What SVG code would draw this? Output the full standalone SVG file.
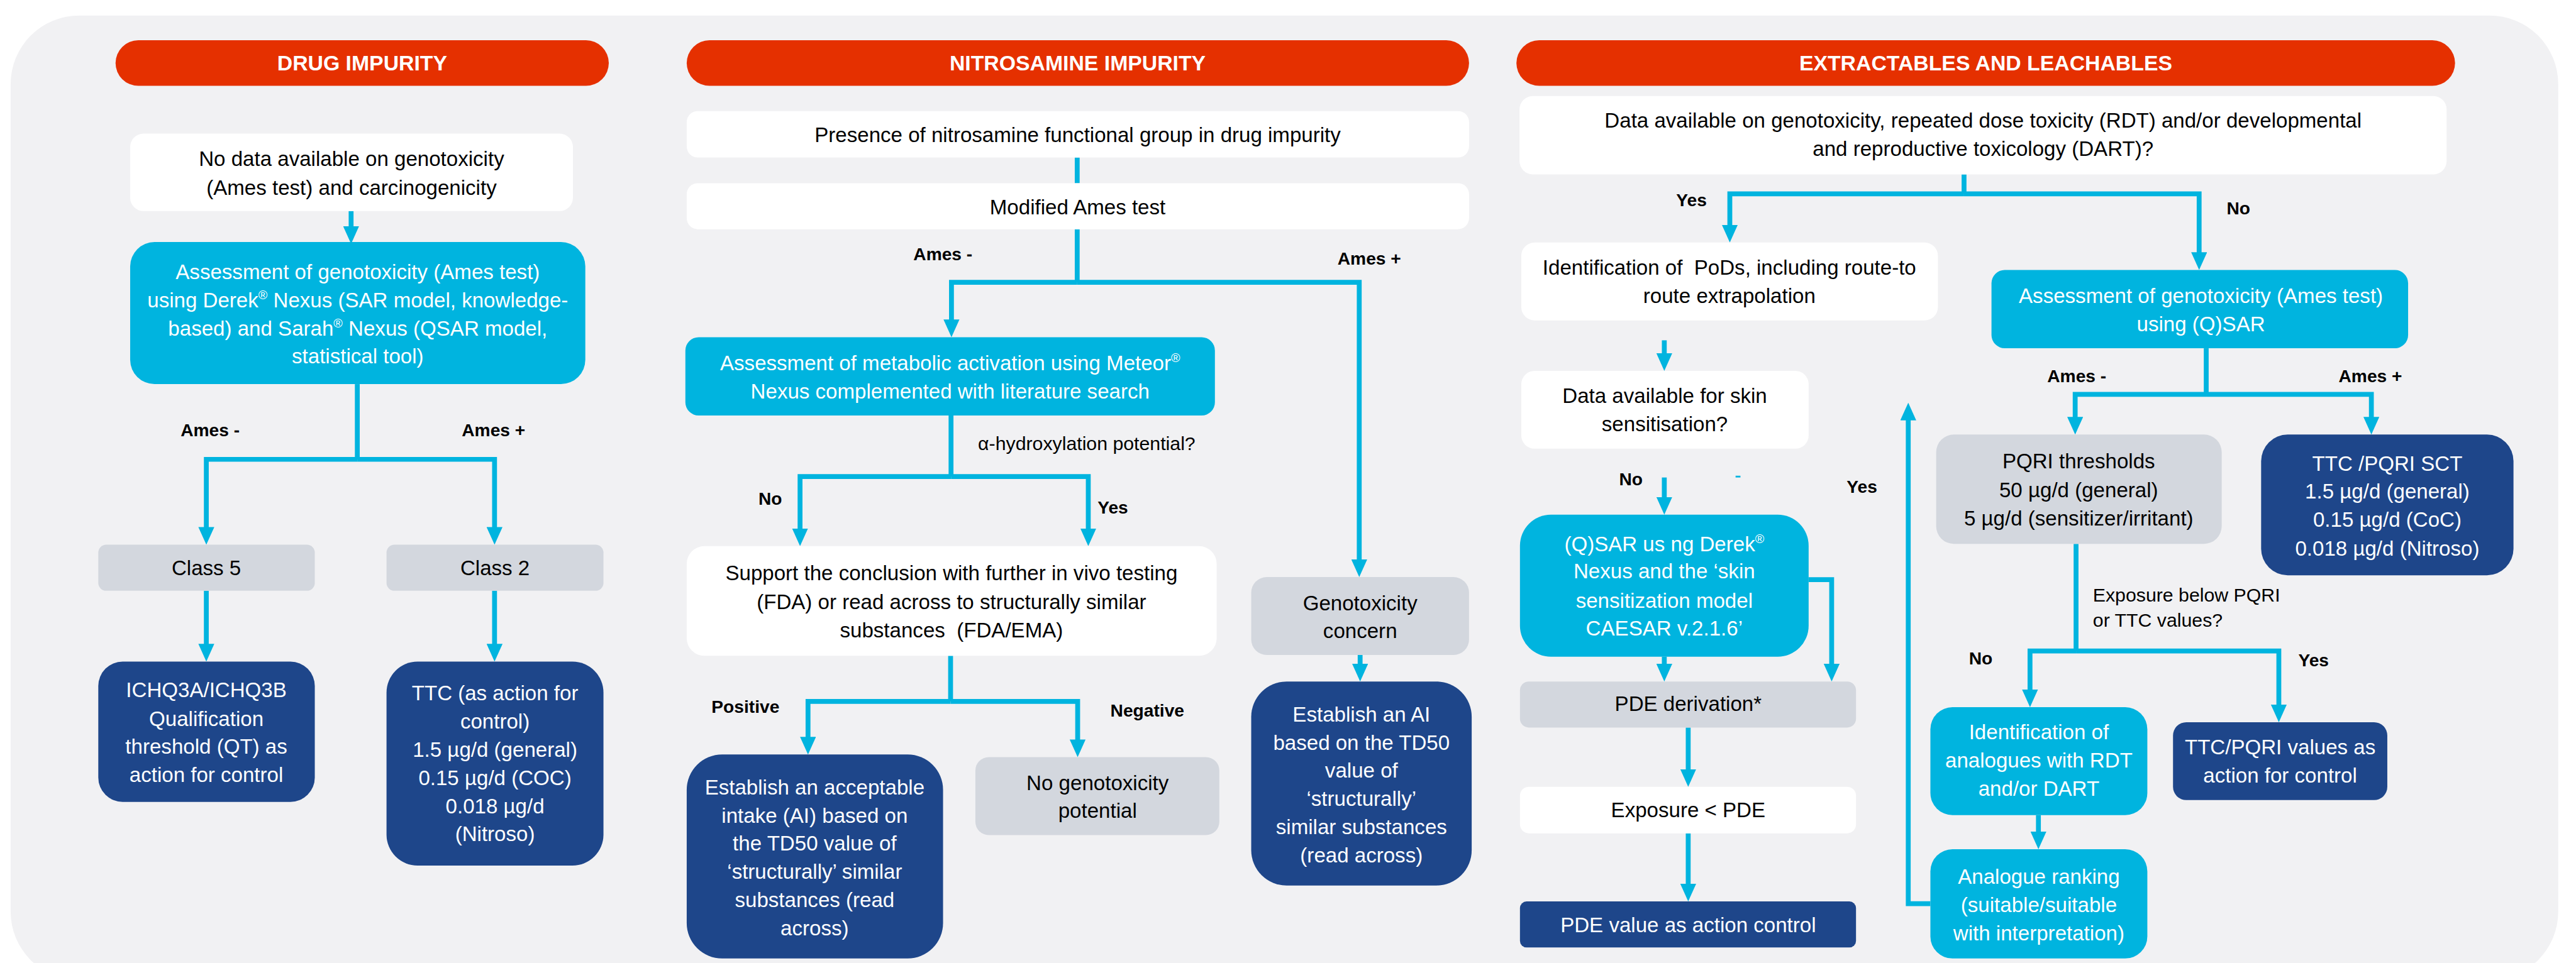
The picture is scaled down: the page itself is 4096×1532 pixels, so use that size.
<svg xmlns="http://www.w3.org/2000/svg" width="4096" height="1532" viewBox="0 0 4096 1532">
<style>
.t{font-family:"Liberation Sans",Arial,sans-serif;font-size:47px;text-anchor:middle;fill:#000}
.w{fill:#fff}
.lb{font-family:"Liberation Sans",Arial,sans-serif;font-size:40px;font-weight:bold;fill:#000}
.sl{font-family:"Liberation Sans",Arial,sans-serif;font-size:43px;fill:#000}
.hd{font-family:"Liberation Sans",Arial,sans-serif;font-size:48px;font-weight:bold;fill:#fff;text-anchor:middle}
.pill{fill:#e53000}
.wb{fill:#ffffff}
.cb{fill:#00b4df}
.db{fill:#1e468a}
.gb{fill:#d3d7de}
.cn{fill:none;stroke:#00b4df;stroke-width:11;stroke-linejoin:miter}
.ar{marker-end:url(#ah)}
</style>
<defs>
<marker id="ah" viewBox="0 0 40 36" refX="20" refY="18" markerWidth="40" markerHeight="36" markerUnits="userSpaceOnUse" orient="auto">
<path d="M0,0 L40,18 L0,36 z" fill="#00b4df"/>
</marker>
</defs>
<rect width="4096" height="1532" fill="#ffffff"/>
<g transform="scale(0.704)">
<rect id="panel" x="24" y="35" width="5754" height="2180" rx="155" fill="#f1f1f3"/>

<g id="connectors">
<path class="cn ar" d="M793,477 V531"/>
<path class="cn" d="M807,868 V1038"/>
<path class="cn ar" d="M807,1038 H466 V1211"/>
<path class="cn ar" d="M807,1038 H1117 V1211"/>
<path class="cn ar" d="M466,1335 V1475"/>
<path class="cn ar" d="M1117,1335 V1475"/>

<path class="cn" d="M2433,356 V414"/>
<path class="cn" d="M2433,518 V638"/>
<path class="cn ar" d="M2433,638 H2149 V742"/>
<path class="cn ar" d="M2433,638 H3070 V1284"/>
<path class="cn" d="M2148,939 V1077"/>
<path class="cn ar" d="M2148,1077 H1807 V1214"/>
<path class="cn ar" d="M2148,1077 H2458 V1214"/>
<path class="cn" d="M2147,1482 V1585"/>
<path class="cn ar" d="M2147,1585 H1825 V1685"/>
<path class="cn ar" d="M2147,1585 H2434 V1691"/>
<path class="cn ar" d="M3072,1480 V1520"/>

<path class="cn" d="M4436,394 V438"/>
<path class="cn ar" d="M4436,438 H3907 V528"/>
<path class="cn ar" d="M4436,438 H4967 V590"/>
<path class="cn ar" d="M3759,769 V818"/>
<path class="cn ar" d="M3759,1079 V1143"/>
<path class="cn ar" d="M4085,1310 H4137 V1520"/>
<path class="cn ar" d="M3759,1484 V1520"/>
<path class="cn ar" d="M3813,1644 V1758"/>
<path class="cn ar" d="M3813,1883 V2017"/>
<path class="cn" d="M4983,787 V891"/>
<path class="cn ar" d="M4983,891 H4687 V962"/>
<path class="cn ar" d="M4983,891 H5356 V962"/>
<path class="cn" d="M4689,1229 V1471"/>
<path class="cn ar" d="M4689,1471 H4585 V1578"/>
<path class="cn ar" d="M4689,1471 H5147 V1612"/>
<path class="cn ar" d="M4604,1842 V1899"/>
<path class="cn ar" d="M4360,2042 H4310 V930"/>
<rect x="3920" y="1075" width="11" height="4" fill="#00b4df"/>
</g>

<g id="labels">
<text class="lb" x="408" y="986">Ames -</text>
<text class="lb" x="1043" y="986">Ames +</text>
<text class="lb" x="2063" y="588">Ames -</text>
<text class="lb" x="3021" y="598">Ames +</text>
<text class="sl" x="2209" y="1017">α-hydroxylation potential?</text>
<text class="lb" x="1713" y="1141">No</text>
<text class="lb" x="2479" y="1161">Yes</text>
<text class="lb" x="1607" y="1611">Positive</text>
<text class="lb" x="2508" y="1619">Negative</text>
<text class="lb" x="3786" y="466">Yes</text>
<text class="lb" x="5029" y="484">No</text>
<text class="lb" x="3657" y="1097">No</text>
<text class="lb" x="4171" y="1114">Yes</text>
<text class="lb" x="4624" y="863">Ames -</text>
<text class="lb" x="5282" y="863">Ames +</text>
<text class="sl" x="4727" y="1360">Exposure below PQRI</text>
<text class="sl" x="4727" y="1416">or TTC values?</text>
<text class="lb" x="4447" y="1502">No</text>
<text class="lb" x="5191" y="1506">Yes</text>
</g>

<g id="hdr-drug"><rect class="pill" x="261" y="91" width="1114" height="103" rx="51.5"/><text class="hd" x="818" y="159">DRUG IMPURITY</text></g>
<g id="hdr-nitro"><rect class="pill" x="1551" y="91" width="1767" height="103" rx="51.5"/><text class="hd" x="2434" y="159">NITROSAMINE IMPURITY</text></g>
<g id="hdr-el"><rect class="pill" x="3425" y="91" width="2120" height="103" rx="51.5"/><text class="hd" x="4485" y="159">EXTRACTABLES AND LEACHABLES</text></g>

<g id="n-nodata"><rect class="wb" x="294" y="302" width="1000" height="175" rx="30"/>
<text class="t" x="794" y="375">No data available on genotoxicity</text>
<text class="t" x="794" y="440">(Ames test) and carcinogenicity</text></g>

<g id="n-assess1"><rect class="cb" x="294" y="547" width="1028" height="321" rx="55"/>
<text class="t w" x="808" y="630">Assessment of genotoxicity (Ames test)</text>
<text class="t w" x="808" y="694">using Derek<tspan font-size="28" dy="-18">®</tspan><tspan dy="18"> Nexus (SAR model, knowledge-</tspan></text>
<text class="t w" x="808" y="758">based) and Sarah<tspan font-size="28" dy="-18">®</tspan><tspan dy="18"> Nexus (QSAR model,</tspan></text>
<text class="t w" x="808" y="821">statistical tool)</text></g>

<g id="n-class5"><rect class="gb" x="222" y="1231" width="489" height="104" rx="18"/>
<text class="t" x="466" y="1300">Class 5</text></g>
<g id="n-class2"><rect class="gb" x="873" y="1231" width="490" height="104" rx="18"/>
<text class="t" x="1118" y="1300">Class 2</text></g>

<g id="n-ich"><rect class="db" x="222" y="1495" width="489" height="317" rx="55"/>
<text class="t w" x="466" y="1576">ICHQ3A/ICHQ3B</text>
<text class="t w" x="466" y="1640">Qualification</text>
<text class="t w" x="466" y="1703">threshold (QT) as</text>
<text class="t w" x="466" y="1767">action for control</text></g>

<g id="n-ttc"><rect class="db" x="873" y="1495" width="490" height="461" rx="70"/>
<text class="t w" x="1118" y="1583">TTC (as action for</text>
<text class="t w" x="1118" y="1646">control)</text>
<text class="t w" x="1118" y="1710">1.5 µg/d (general)</text>
<text class="t w" x="1118" y="1774">0.15 µg/d (COC)</text>
<text class="t w" x="1118" y="1838">0.018 µg/d</text>
<text class="t w" x="1118" y="1901">(Nitroso)</text></g>

<g id="n-presence"><rect class="wb" x="1551" y="251" width="1767" height="105" rx="25"/>
<text class="t" x="2434" y="321">Presence of nitrosamine functional group in drug impurity</text></g>
<g id="n-modames"><rect class="wb" x="1551" y="414" width="1767" height="104" rx="25"/>
<text class="t" x="2434" y="484">Modified Ames test</text></g>

<g id="n-meteor"><rect class="cb" x="1548" y="762" width="1196" height="177" rx="30"/>
<text class="t w" x="2146" y="836">Assessment of metabolic activation using Meteor<tspan font-size="28" dy="-18">®</tspan></text>
<text class="t w" x="2146" y="900">Nexus complemented with literature search</text></g>

<g id="n-support"><rect class="wb" x="1551" y="1234" width="1197" height="248" rx="40"/>
<text class="t" x="2149" y="1311">Support the conclusion with further in vivo testing</text>
<text class="t" x="2149" y="1376">(FDA) or read across to structurally similar</text>
<text class="t" x="2149" y="1440">substances &#160;(FDA/EMA)</text></g>

<g id="n-ai1"><rect class="db" x="1551" y="1705" width="579" height="461" rx="80"/>
<text class="t w" x="1840" y="1795">Establish an acceptable</text>
<text class="t w" x="1840" y="1859">intake (AI) based on</text>
<text class="t w" x="1840" y="1922">the TD50 value of</text>
<text class="t w" x="1840" y="1986">‘structurally’ similar</text>
<text class="t w" x="1840" y="2050">substances (read</text>
<text class="t w" x="1840" y="2114">across)</text></g>

<g id="n-nogeno"><rect class="gb" x="2203" y="1711" width="551" height="176" rx="30"/>
<text class="t" x="2479" y="1786">No genotoxicity</text>
<text class="t" x="2479" y="1848">potential</text></g>

<g id="n-genoconcern"><rect class="gb" x="2826" y="1304" width="492" height="176" rx="35"/>
<text class="t" x="3072" y="1379">Genotoxicity</text>
<text class="t" x="3072" y="1442">concern</text></g>

<g id="n-ai2"><rect class="db" x="2826" y="1540" width="498" height="461" rx="80"/>
<text class="t w" x="3075" y="1630">Establish an AI</text>
<text class="t w" x="3075" y="1694">based on the TD50</text>
<text class="t w" x="3075" y="1757">value of</text>
<text class="t w" x="3075" y="1821">‘structurally’</text>
<text class="t w" x="3075" y="1885">similar substances</text>
<text class="t w" x="3075" y="1949">(read across)</text></g>

<g id="n-dataavail"><rect class="wb" x="3432" y="217" width="2094" height="177" rx="30"/>
<text class="t" x="4479" y="289">Data available on genotoxicity, repeated dose toxicity (RDT) and/or developmental</text>
<text class="t" x="4479" y="353">and reproductive toxicology (DART)?</text></g>

<g id="n-pods"><rect class="wb" x="3436" y="548" width="941" height="176" rx="30"/>
<text class="t" x="3906" y="621">Identification of &#160;PoDs, including route-to</text>
<text class="t" x="3906" y="685">route extrapolation</text></g>

<g id="n-skin"><rect class="wb" x="3436" y="838" width="649" height="176" rx="30"/>
<text class="t" x="3760" y="910">Data available for skin</text>
<text class="t" x="3760" y="975">sensitisation?</text></g>

<g id="n-qsar"><rect class="cb" x="3433" y="1163" width="652" height="321" rx="70"/>
<text class="t w" x="3759" y="1246">(Q)SAR us ng Derek<tspan font-size="28" dy="-18">®</tspan></text>
<text class="t w" x="3759" y="1307">Nexus and the ‘skin</text>
<text class="t w" x="3759" y="1373">sensitization model</text>
<text class="t w" x="3759" y="1436">CAESAR v.2.1.6’</text></g>

<g id="n-pde"><rect class="gb" x="3433" y="1540" width="759" height="104" rx="20"/>
<text class="t" x="3813" y="1607">PDE derivation*</text></g>
<g id="n-exposure"><rect class="wb" x="3433" y="1778" width="759" height="105" rx="20"/>
<text class="t" x="3813" y="1846">Exposure &lt; PDE</text></g>
<g id="n-pdeval"><rect class="db" x="3433" y="2037" width="759" height="104" rx="15"/>
<text class="t w" x="3813" y="2106">PDE value as action control</text></g>

<g id="n-assess2"><rect class="cb" x="4498" y="610" width="941" height="177" rx="30"/>
<text class="t w" x="4971" y="684">Assessment of genotoxicity (Ames test)</text>
<text class="t w" x="4971" y="748">using (Q)SAR</text></g>

<g id="n-pqri"><rect class="gb" x="4373" y="982" width="645" height="247" rx="40"/>
<text class="t" x="4695" y="1058">PQRI thresholds</text>
<text class="t" x="4695" y="1124">50 µg/d (general)</text>
<text class="t" x="4695" y="1187">5 µg/d (sensitizer/irritant)</text></g>

<g id="n-ttcsct"><rect class="db" x="5107" y="982" width="570" height="318" rx="60"/>
<text class="t w" x="5392" y="1064">TTC /PQRI SCT</text>
<text class="t w" x="5392" y="1127">1.5 µg/d (general)</text>
<text class="t w" x="5392" y="1191">0.15 µg/d (CoC)</text>
<text class="t w" x="5392" y="1255">0.018 µg/d (Nitroso)</text></g>

<g id="n-analogues"><rect class="cb" x="4360" y="1598" width="490" height="244" rx="50"/>
<text class="t w" x="4605" y="1671">Identification of</text>
<text class="t w" x="4605" y="1735">analogues with RDT</text>
<text class="t w" x="4605" y="1799">and/or DART</text></g>

<g id="n-ttcvalues"><rect class="db" x="4908" y="1632" width="484" height="176" rx="30"/>
<text class="t w" x="5150" y="1705">TTC/PQRI values as</text>
<text class="t w" x="5150" y="1769">action for control</text></g>

<g id="n-ranking"><rect class="cb" x="4360" y="1919" width="490" height="247" rx="50"/>
<text class="t w" x="4605" y="1997">Analogue ranking</text>
<text class="t w" x="4605" y="2061">(suitable/suitable</text>
<text class="t w" x="4605" y="2125">with interpretation)</text></g>
</g>
</svg>
